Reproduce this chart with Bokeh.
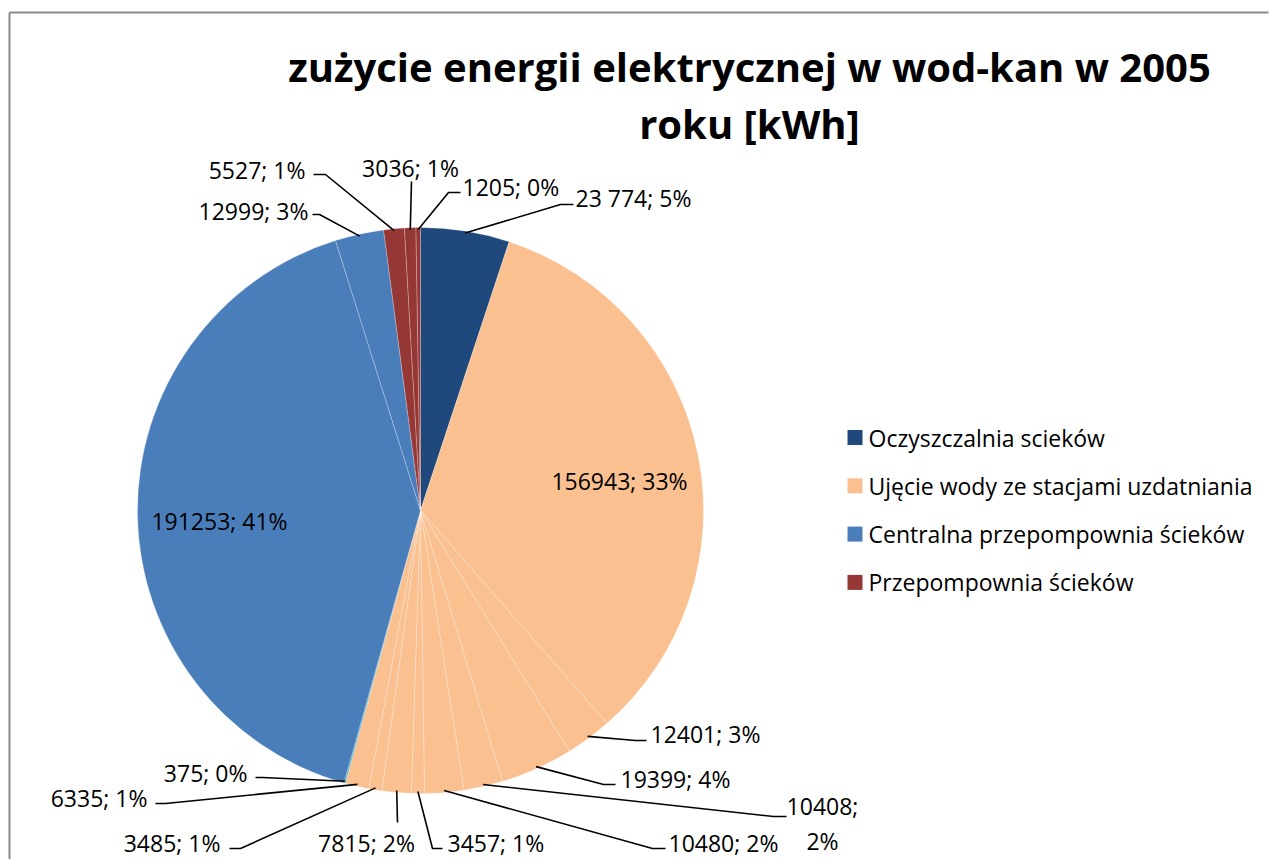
import numpy as np
from bokeh.plotting import figure
from bokeh.models import Range1d, ColumnDataSource
from bokeh.core.properties import value
from bokeh.embed import file_html
from bokeh.resources import INLINE

# ---------------- data ----------------
title_lines = ["zużycie energii elektrycznej w wod-kan w 2005", "roku [kWh]"]
categories = ["Oczyszczalnia scieków",
              "Ujęcie wody ze stacjami uzdatniania",
              "Centralna przepompownia ścieków",
              "Przepompownia ścieków"]
slice_values = [23774, 156943, 12401, 19399, 10408, 10480, 3457, 7815,
                3485, 6335, 375, 191253, 12999, 5527, 3036, 1205]
slice_category = [0, 1, 1, 1, 1, 1, 1, 1, 1, 1, 1, 2, 2, 3, 3, 3]
slice_labels = ["23 774; 5%", "156943; 33%", "12401; 3%", "19399; 4%",
                "10408;\n2%", "10480; 2%", "3457; 1%", "7815; 2%",
                "3485; 1%", "6335; 1%", "375; 0%", "191253; 41%",
                "12999; 3%", "5527; 1%", "3036; 1%", "1205; 0%"]

# ---------------- style / layout ----------------
category_colors = ["#1F497D", "#FAC090", "#4A7EBB", "#953735"]
slice_color_override = {10: "#4BACC6"}

W, H = 1269, 859


def X(sx):
    return sx


def Y(sy):
    return H - sy


CX, CY, R = X(420), Y(510), 283
FONT = "Open Sans"

# label layout in screen coords: (x, y, align, leader waypoints or None)
label_layout = [
    (575, 197, "left", [(560, 204), (573, 204)]),
    (619, 480, "center", None),
    (650, 733, "left", [(635, 740), (646, 740)]),
    (620, 778, "left", [(603, 784), (615, 784)]),
    (822, 805, "center", [(773, 816), (786, 816)]),
    (668, 842, "left", [(652, 848), (665, 848)]),
    (447, 842, "left", [(432, 848), (442, 848)]),
    (366, 842, "center", [(397, 822)]),
    (220, 842, "right", [(240, 848), (229, 848)]),
    (147, 797, "right", [(165, 803), (155, 803)]),
    (247, 772, "right", [(262, 777), (255, 777)]),
    (219, 520, "center", None),
    (308, 210, "right", [(319, 214), (312, 214)]),
    (305, 169, "right", [(325, 174), (313, 174)]),
    (410, 167, "center", [(411, 181)]),
    (462, 186, "left", [(448, 192), (460, 192)]),
]
LINE_GAP = 35

# ---------------- computations ----------------
vals = np.array(slice_values, dtype=float)
frac = vals / vals.sum()
cum_end = np.cumsum(frac)
cum_start = cum_end - frac
mid = (cum_start + cum_end) / 2.0
start_angle = np.pi / 2 - 2 * np.pi * cum_start
end_angle = np.pi / 2 - 2 * np.pi * cum_end
colors = [slice_color_override.get(i, category_colors[c]) for i, c in enumerate(slice_category)]

p = figure(width=W, height=H, output_backend="svg", toolbar_location=None,
           x_range=Range1d(0, W), y_range=Range1d(0, H),
           x_axis_location=None, y_axis_location=None, min_border=0)
p.grid.visible = False
p.outline_line_color = None
p.background_fill_color = "white"
p.border_fill_color = "white"

# chart border (left & top) as two separate segments
p.segment(x0=[X(9), X(9)], y0=[0, Y(12)], x1=[X(9), W - 1], y1=[Y(12), Y(12)],
          line_color="#898989", line_width=2)

# pie
src = ColumnDataSource(dict(start=start_angle, end=end_angle, color=colors))
p.wedge(x=CX, y=CY, radius=R, start_angle="start", end_angle="end",
        direction="clock", fill_color="color", line_color="white",
        line_width=0.6, line_alpha=0.4, source=src)

# leader lines
lx, ly = [], []
for i, (sx, sy, al, leader) in enumerate(label_layout):
    if leader is None:
        continue
    th = 2 * np.pi * mid[i]
    ax = CX + (R - 2) * np.sin(th)
    ay = CY + (R - 2) * np.cos(th)
    xs = [ax] + [X(q[0]) for q in leader]
    ys = [ay] + [Y(q[1]) for q in leader]
    lx.append(xs)
    ly.append(ys)
p.multi_line(xs=lx, ys=ly, line_color="black", line_width=1.6)

# data labels
tx, ty, tt, ta = [], [], [], []
for i, (sx, sy, al, leader) in enumerate(label_layout):
    for k, line in enumerate(slice_labels[i].split("\n")):
        tx.append(X(sx))
        ty.append(Y(sy + k * LINE_GAP))
        tt.append(line)
        ta.append(al)
p.text(x="x", y="y", text="t", text_align="a", text_baseline="middle",
       text_font=value(FONT), text_font_size="23px", text_color="black",
       source=ColumnDataSource(dict(x=tx, y=ty, t=tt, a=ta)))

# title
p.text(x=[X(749), X(749)], y=[Y(66), Y(123)], text=title_lines,
       text_align="center", text_baseline="alphabetic",
       text_font=value(FONT), text_font_style="bold",
       text_font_size="40px", text_color="black")

# legend
leg_y = [Y(437 + 48.3 * k) for k in range(len(categories))]
p.rect(x=[X(854.5)] * len(categories), y=leg_y, width=15, height=15,
       fill_color=category_colors, line_color=None)
p.text(x=[X(868)] * len(categories), y=leg_y, text=categories,
       text_align="left", text_baseline="middle",
       text_font=value(FONT), text_font_size="23px", text_color="black")

open("out.html", "w").write(file_html(p, INLINE))
